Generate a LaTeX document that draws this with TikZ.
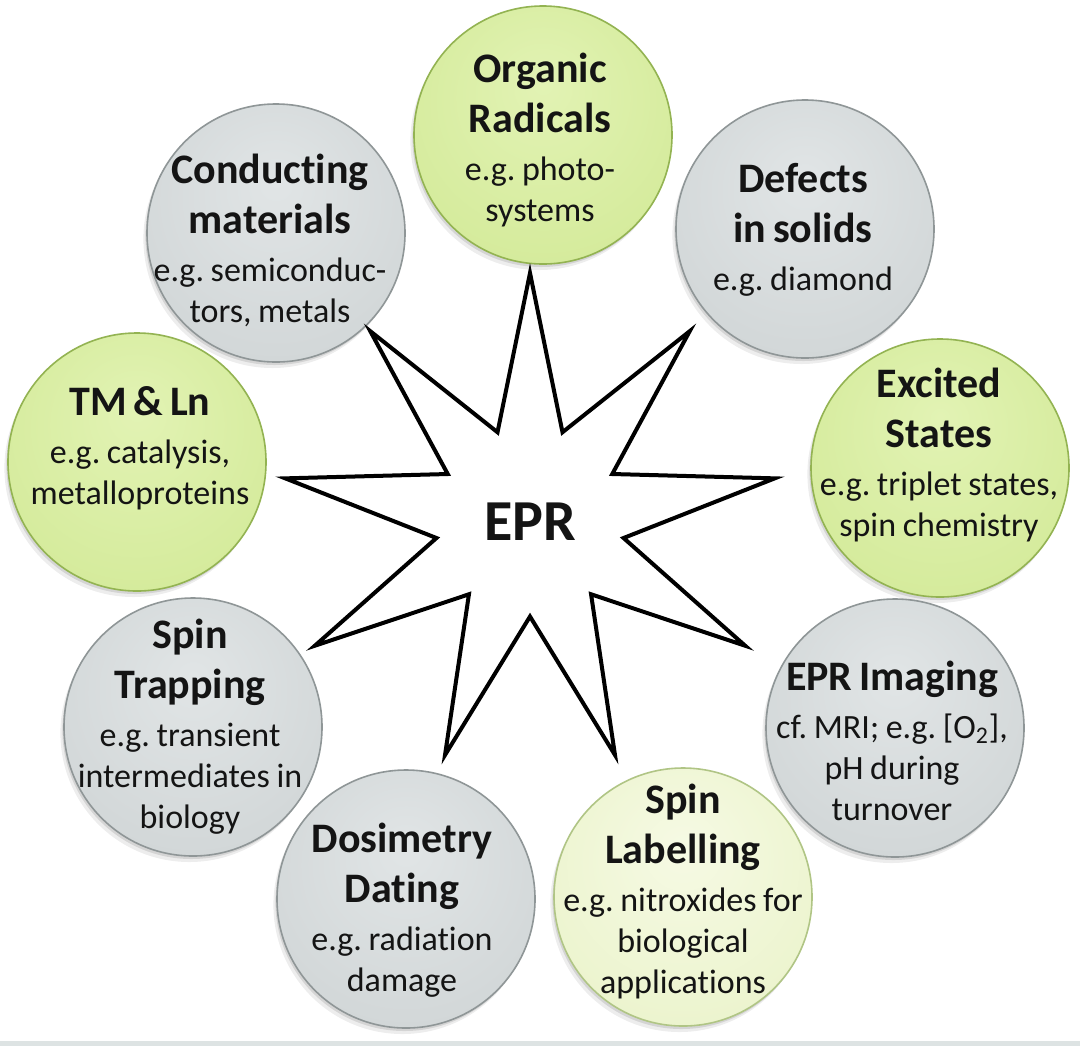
\documentclass[tikz,border=0pt]{standalone}
\usepackage{fontspec}
\setmainfont{Carlito}[Ligatures={NoCommon}]
\usetikzlibrary{shapes.geometric}
\setlength{\parindent}{0pt}

% bubble colours
\definecolor{gryA}{HTML}{E1E5E6}
\definecolor{gryB}{HTML}{D2D7D8}
\definecolor{gryC}{HTML}{C5CACB}
\definecolor{gryD}{HTML}{A3A9AA}
\definecolor{gryRim}{HTML}{8F9697}
\definecolor{grnA}{HTML}{E2F3B4}
\definecolor{grnB}{HTML}{D5EB9C}
\definecolor{grnC}{HTML}{C9E18A}
\definecolor{grnD}{HTML}{A9C566}
\definecolor{grnRim}{HTML}{93B352}
\definecolor{palA}{HTML}{F6FAE4}
\definecolor{palB}{HTML}{ECF4CE}
\definecolor{palC}{HTML}{E1ECBA}
\definecolor{palD}{HTML}{C6D89A}
\definecolor{palRim}{HTML}{B0C585}
\definecolor{ink}{HTML}{141414}
\definecolor{stripgray}{HTML}{DDE3E3}

% soft, top-lit fills for the bubbles
\pgfdeclareradialshading{graybub}{\pgfpoint{0bp}{10bp}}{color(0bp)=(gryA); color(30bp)=(gryB); color(46bp)=(gryC); color(60bp)=(gryD)}
\pgfdeclareradialshading{greenbub}{\pgfpoint{0bp}{10bp}}{color(0bp)=(grnA); color(30bp)=(grnB); color(46bp)=(grnC); color(60bp)=(grnD)}
\pgfdeclareradialshading{palebub}{\pgfpoint{0bp}{10bp}}{color(0bp)=(palA); color(30bp)=(palB); color(46bp)=(palC); color(60bp)=(palD)}

\newcommand\bubtitle{\fontsize{21}{25}\selectfont\bfseries}
\newcommand\bubbody{\fontsize{17}{20.5}\selectfont\mdseries}
\newcommand\bubgap{\par\vspace{3.5pt}}

\tikzset{
  bub/.style={circle, minimum size=129pt, inner sep=0pt, line width=0.8pt,
    preaction={fill=black, opacity=0.07, transform canvas={xshift=-1.8pt, yshift=-3pt}},
    preaction={fill=black, opacity=0.10, transform canvas={xshift=-0.8pt, yshift=-1.5pt}}},
  graybubble/.style={bub, shading=graybub, draw=gryRim},
  greenbubble/.style={bub, shading=greenbub, draw=grnRim},
  palebubble/.style={bub, shading=palebub, draw=palRim},
  bubtext/.style={text width=150pt, align=center, inner sep=0pt, text=ink},
  burst/.style={star, star points=9, star point ratio=2.616, minimum size=248.5pt,
    inner sep=0pt, draw=black, line width=2pt, fill=white, text=ink,
    font=\fontsize{29}{34}\selectfont\bfseries}
}

\begin{document}
\begin{tikzpicture}[x=0.5pt, y=-0.5pt]
  \useasboundingbox (0,0) rectangle (1080,1046);
  \fill[white] (0,0) rectangle (1080,1046);
  \fill[stripgray] (0,1041) rectangle (1080,1046);

  % ring of application areas
  \node[greenbubble] (org) at (543,135) {};
  \node[graybubble]  (def) at (805,229) {};
  \node[greenbubble] (exc) at (940,468) {};
  \node[graybubble]  (img) at (895,728) {};
  \node[palebubble]  (lab) at (683,897) {};
  \node[graybubble]  (dos) at (406,899) {};
  \node[graybubble]  (trp) at (193,727) {};
  \node[greenbubble] (tml) at (137,462) {};
  \node[graybubble]  (con) at (276,233) {};

  \node[bubtext] (orgt) at ([shift={(-3,5)}]org.center)
    {\bubtitle Organic\\Radicals\bubgap\bubbody e.g.\ photo-\\systems\par};
  \node[bubtext] (deft) at ([shift={(-2,1)}]def.center)
    {\bubtitle Defects\\in solids\bubgap\bubbody e.g.\ diamond\par};
  \node[bubtext] (exct) at ([shift={(-1,-13)}]exc.center)
    {\bubtitle Excited\\States\bubgap\bubbody e.g.\ triplet states,\\spin chemistry\par};
  \node[bubtext] (imgt) at ([shift={(-3,13)}]img.center)
    {\bubtitle EPR Imaging\bubgap\bubbody cf.\ MRI; e.g.\ [O\textsubscript{2}],\\pH during\\turnover\par};
  \node[bubtext] (labt) at ([shift={(0,-6)}]lab.center)
    {\bubtitle Spin\\Labelling\bubgap\bubbody e.g.\ nitroxides for\\biological\\applications\par};
  \node[bubtext] (dost) at ([shift={(-4,11)}]dos.center)
    {\bubtitle Dosimetry\\Dating\bubgap\bubbody e.g.\ radiation\\damage\par};
  \node[bubtext] (trpt) at ([shift={(-3,0)}]trp.center)
    {\bubtitle Spin\\Trapping\bubgap\bubbody e.g.\ transient\\intermediates in\\biology\par};
  \node[bubtext] (tmlt) at ([shift={(3,-14)}]tml.center)
    {\bubtitle TM \& Ln\bubgap\bubbody e.g.\ catalysis,\\metalloproteins\par};
  \node[bubtext] (cont) at ([shift={(-6,7)}]con.center)
    {\bubtitle Conducting\\materials\bubgap\bubbody e.g.\ semiconduc-\\tors, metals\par};

  % central star
  \node[burst] (epr) at (530,521.5) {EPR};
\end{tikzpicture}
\end{document}
